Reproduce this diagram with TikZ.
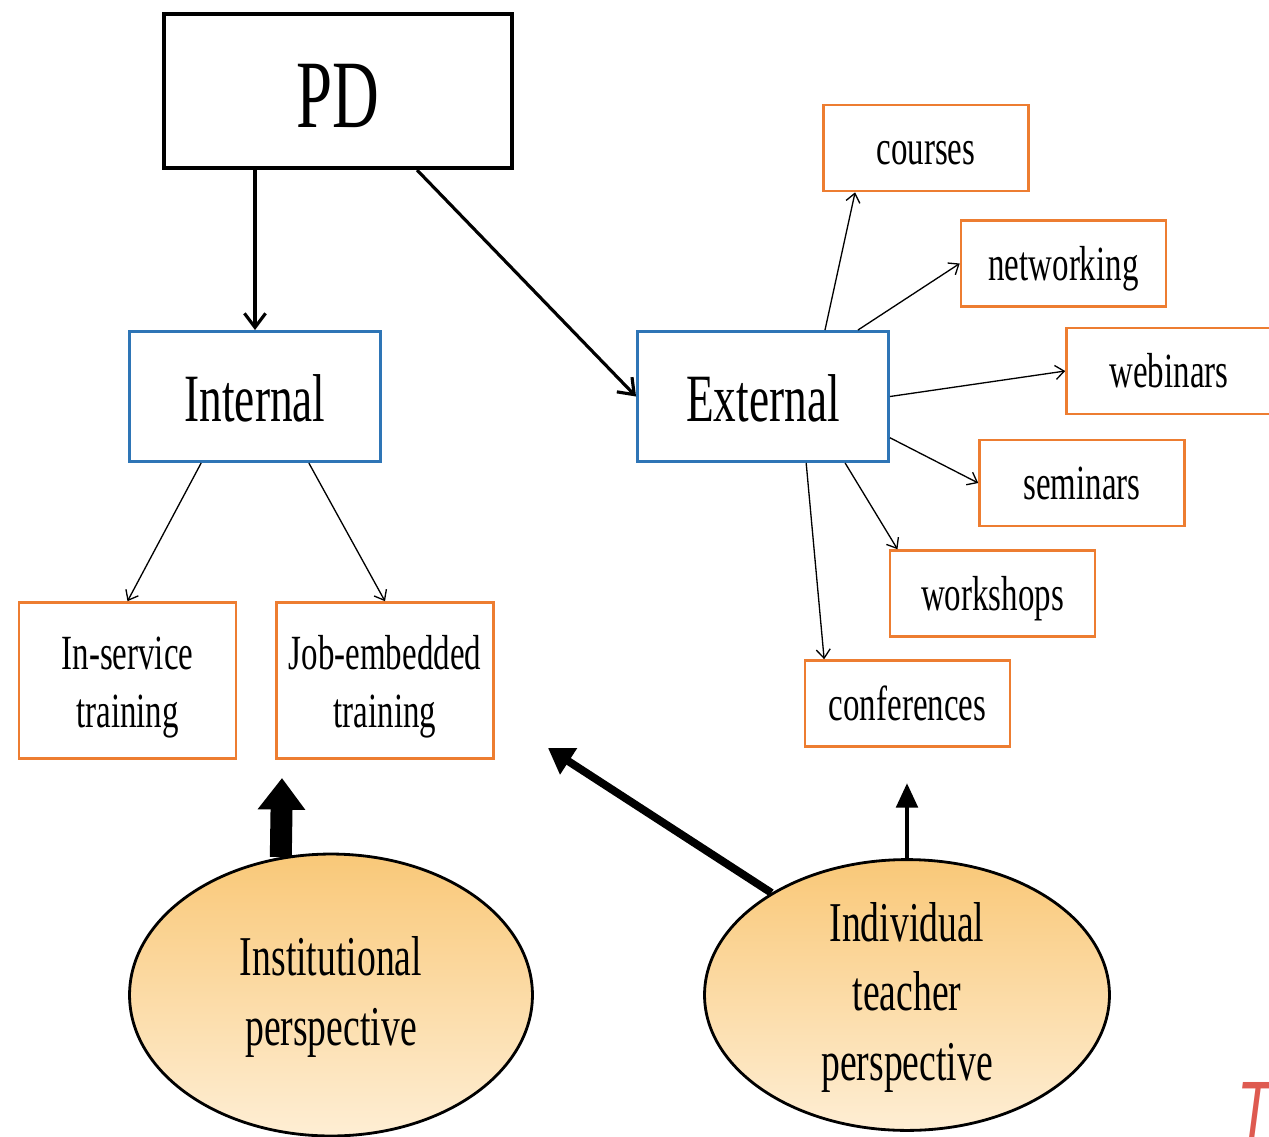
\documentclass[tikz,border=0pt]{standalone}
\usepackage{fontspec}
\setmainfont[FakeStretch=0.67]{Liberation Serif}
\newfontfamily\markfont[FakeStretch=0.67]{Liberation Sans}
\usepackage{tikz}
\usetikzlibrary{shapes.geometric,arrows.meta}
\definecolor{boxblue}{RGB}{46,117,182}
\definecolor{boxorange}{RGB}{237,125,49}
\definecolor{viewtop}{RGB}{249,200,120}
\definecolor{viewbottom}{RGB}{254,238,212}
\definecolor{markred}{RGB}{222,90,80}
\tikzstyle{pdbox} = [draw=black, line width=2.3pt, rectangle, inner sep=0,
    minimum width=6.96cm, minimum height=3.08cm, text height=52pt, text depth=11pt,
    font=\fontsize{55}{60}\selectfont]
\tikzstyle{bluebox} = [draw=boxblue, line width=1.7pt, rectangle, inner sep=0,
    minimum width=5.02cm, minimum height=2.6cm, text height=36pt, text depth=7pt,
    font=\fontsize{38.5}{44}\selectfont]
\tikzstyle{orangebox} = [draw=boxorange, line width=1.5pt, rectangle, inner sep=0,
    minimum width=4.1cm, minimum height=1.72cm, text height=25pt, text depth=6pt,
    font=\fontsize{28}{33}\selectfont]
\tikzstyle{trainbox} = [draw=boxorange, line width=1.5pt, rectangle, inner sep=0,
    minimum width=4.34cm, minimum height=3.12cm, align=center,
    text height=60pt, text depth=6.1pt, font=\fontsize{28}{33}\selectfont]
\tikzstyle{view} = [draw=black, line width=1.6pt, ellipse, inner sep=0, align=center,
    top color=viewtop, bottom color=viewbottom, font=\fontsize{32}{39.5}\selectfont]
\tikzstyle{pdarrow} = [line width=1.8pt, -{Straight Barb[length=8pt,width=12pt]}]
\tikzstyle{subarrow} = [line width=0.75pt, -{Straight Barb[length=5pt,width=8pt]}]

\begin{document}
\begin{tikzpicture}[x=0.02cm, y=-0.02cm]
    \useasboundingbox (0,0) rectangle (1269,1137);
    \node [pdbox] (pd) at (338,91) {PD};
    \node [bluebox] (int) at (255,396.5) {Internal};
    \node [bluebox] (ext) at (763,396.5) {External};
    \node [trainbox] (ins) at (127.5,680.5) {In-service\\training};
    \node [trainbox] (job) at (385,680.5) {Job-embedded\\training};
    \node [orangebox] (cou) at (926,148) {courses};
    \node [orangebox] (net) at (1063.5,263.5) {networking};
    \node [orangebox] (web) at (1169,371) {webinars};
    \node [orangebox] (sem) at (1082,483) {seminars};
    \node [orangebox] (wor) at (992.5,593.5) {workshops};
    \node [orangebox] (con) at (907.5,703.5) {conferences};
    \node [view, minimum width=8.06cm, minimum height=5.64cm, text height=63.3pt, text depth=6pt]
        (inst) at (331,995) {Institutional\\perspective};
    \node [view, minimum width=8.1cm, minimum height=5.32cm, text height=103pt, text depth=6pt]
        (ind) at (907,995) {Individual\\teacher\\perspective};
    \node [text=markred, inner sep=0, anchor=north, font=\markfont\itshape\fontsize{48}{50}\selectfont] (mark) at (1255,1082) {T};
    \coordinate (instTip) at (282,778);
    \coordinate (indTip) at (548,748);
    \coordinate (conTip) at (907,783);

    \draw [pdarrow] (int.north |- pd.south) -- (int.north);
    \draw [pdarrow] (pd.-45.7) -- (ext.west);
    \draw [subarrow] (int.-129) -- (ins.north);
    \draw [subarrow] (int.-51) -- (job.north);
    \draw [subarrow] (ext.47) -- (cou.212);
    \draw [subarrow] (ext.35.9) -- (net.west);
    \draw [subarrow] (ext.east) -- (web.west);
    \draw [subarrow] (ext.-18.9) -- (sem.west);
    \draw [subarrow] (ext.-39) -- (wor.155);
    \draw [subarrow] (ext.-57) -- (con.152);
    \draw [line width=12.5pt, -{Triangle[length=18pt,width=26pt]}] (inst.110) -- (instTip);
    \draw [line width=4.5pt, -{Triangle[length=14pt,width=17pt]}] (ind.143) -- (indTip);
    \draw [line width=2.8pt, -{Triangle[length=14pt,width=12pt]}] (ind.north) -- (conTip);
\end{tikzpicture}
\end{document}
